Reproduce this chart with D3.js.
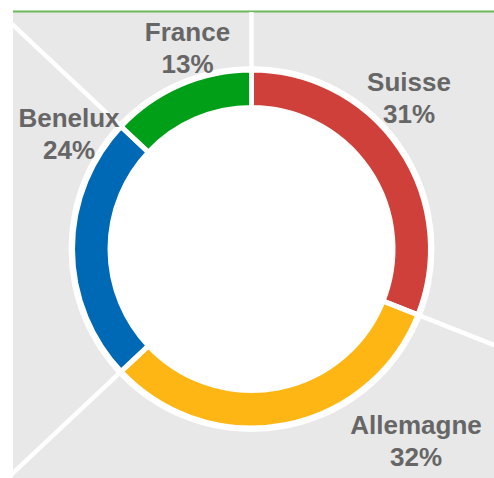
<!DOCTYPE html>
<html>
<head>
<meta charset="utf-8">
<script src="https://cdn.jsdelivr.net/npm/d3@7"></script>
<style>
  html, body { margin: 0; padding: 0; background: #ffffff; }
  svg { display: block; }
</style>
</head>
<body>
<div id="chart"></div>
<script>
// ---- data ----
const categories = ["Suisse", "Allemagne", "Benelux", "France"];
const shares = [31, 32, 24, 13];
const colors = ["#D0403A", "#FDB614", "#0069B5", "#009F18"];

// ---- layout ----
const W = 494, H = 478;
const cx = 251.5, cy = 249;
const outerR = 179, innerR = 141.5;
const panel = { x: 13, y: 12, w: W - 13, h: H - 12 };
// label offsets (relative to chart centre) for first text line baseline
const labelOffsets = [[157.5, -158.3], [164.5, 185], [-182.5, -122.3], [-64, -208.3]];

const svg = d3.select("#chart").append("svg").attr("width", W).attr("height", H);

svg.append("defs").append("clipPath").attr("id", "pclip")
  .append("rect").attr("x", panel.x).attr("y", panel.y).attr("width", panel.w).attr("height", panel.h);

svg.append("rect").attr("x", panel.x).attr("y", panel.y).attr("width", panel.w).attr("height", panel.h)
  .attr("fill", "#E8E8E8");
svg.append("line").attr("x1", panel.x).attr("x2", W).attr("y1", panel.y - 0.5).attr("y2", panel.y - 0.5)
  .attr("stroke", "#6CB85A").attr("stroke-width", 2);

const pie = d3.pie().sort(null).value(d => d)(shares);

const g = svg.append("g").attr("transform", `translate(${cx},${cy})`);

// radiating white lines through slice boundaries
const rays = svg.append("g").attr("clip-path", "url(#pclip)")
  .append("g").attr("transform", `translate(${cx},${cy})`);
rays.selectAll("line").data(pie).join("line")
  .attr("x1", 0).attr("y1", 0)
  .attr("x2", d => Math.sin(d.startAngle) * 600)
  .attr("y2", d => -Math.cos(d.startAngle) * 600)
  .attr("stroke", "#ffffff").attr("stroke-width", 4.5);

// white disc behind ring
g.append("circle").attr("r", outerR + 4).attr("fill", "#ffffff");

const arc = d3.arc().innerRadius(innerR).outerRadius(outerR);
g.selectAll("path").data(pie).join("path")
  .attr("d", arc)
  .attr("fill", (d, i) => colors[i])
  .attr("stroke", "#ffffff").attr("stroke-width", 5).attr("stroke-linejoin", "miter");

// labels
const lab = svg.append("g")
  .attr("font-family", "'Liberation Sans', Arial, sans-serif")
  .attr("font-weight", "bold").attr("font-size", 26).attr("fill", "#666666")
  .attr("text-anchor", "middle");
pie.forEach((d, i) => {
  const [dx, dy] = labelOffsets[i];
  const t = lab.append("text").attr("x", cx + dx).attr("y", cy + dy);
  t.append("tspan").attr("x", cx + dx).text(categories[i]);
  t.append("tspan").attr("x", cx + dx).attr("dy", 32).text(d3.format(".0f")(shares[i]) + "%");
});
</script>
</body>
</html>
